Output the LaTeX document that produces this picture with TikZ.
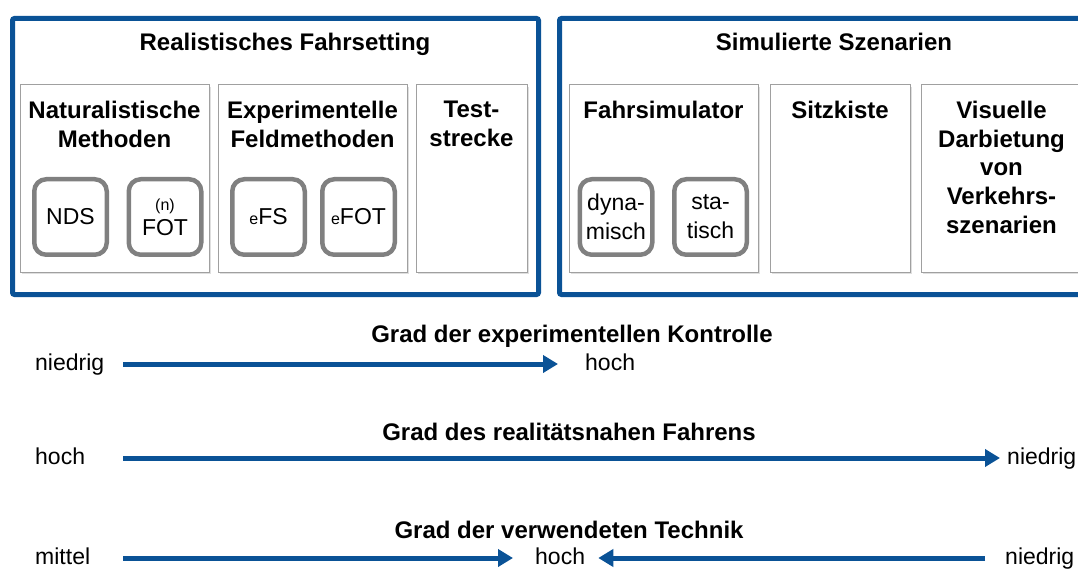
\documentclass[tikz,border=0pt]{standalone}
\usepackage{fontspec}
\setmainfont{Liberation Sans}
\usetikzlibrary{arrows.meta,positioning,shadows}
\definecolor{frameblue}{RGB}{10, 82,150}
\definecolor{chipgray} {RGB}{128,128,128}
\definecolor{panelgray}{RGB}{160,160,160}

\begin{document}
\begin{tikzpicture}[
  x=1pt, y=-1pt,
  every node/.style={font=\fontsize{23}{28.7}\selectfont, align=center},
  frame/.style={draw=frameblue, line width=5pt, rounded corners=2pt},
  panel/.style={draw=panelgray, fill=white, line width=1pt, inner sep=0pt,
    drop shadow={shadow xshift=2pt, shadow yshift=-2pt, opacity=0.25}},
  head/.style={font=\bfseries\fontsize{24}{28.7}\selectfont},
  chip/.style={draw=chipgray, fill=white, line width=4.5pt, rounded corners=12pt, inner sep=0pt, minimum width=72.5pt, minimum height=75.5pt},
  lbl/.style={inner sep=0pt, text height=17pt, text depth=5pt},
  arrow/.style={-{Triangle[length=15pt,width=17pt]}, line width=5pt, frameblue}
]
  \useasboundingbox (0,0) rectangle (1078,569);
  \clip (0,0) rectangle (1078,569);

  % Frames
  \draw [frame] (12.5,18.5) rectangle (538.5,294.5);
  \draw [frame] (559.5,18.5) rectangle (1090,294.5);
  \node (realT) [head, anchor=base] at (285,51) {Realistisches Fahrsetting};
  \node (simT)  [head, anchor=base] at (834,51) {Simulierte Szenarien};

  % Panels
  \node (nat)  [panel, minimum width=189pt, minimum height=187pt] at (114.5,178.5) {};
  \node (exp)  [panel, minimum width=189pt, minimum height=187pt] at (312.5,178.5) {};
  \node (test) [panel, minimum width=111pt, minimum height=187pt] at (471.5,178.5) {};
  \node (fsim) [panel, minimum width=189pt, minimum height=187pt] at (663.5,178.5) {};
  \node (sitz) [panel, minimum width=140pt, minimum height=187pt] at (840,178.5) {};
  \node (vis)  [panel, minimum width=161pt, minimum height=187pt] at (1001.5,178.5) {};

  \node (natT)  [head, below=13pt of nat.north]  {Naturalistische\\Methoden};
  \node (expT)  [head, below=13pt of exp.north]  {Experimentelle\\Feldmethoden};
  \node (testT) [head, below=13pt of test.north] {Test-\\strecke};
  \node (fsimT) [head, below=13pt of fsim.north] {Fahrsimulator};
  \node (sitzT) [head, below=13pt of sitz.north] {Sitzkiste};
  \node (visT)  [head, below=13pt of vis.north]  {Visuelle\\Darbietung\\von\\Verkehrs-\\szenarien};

  % Chips
  \node (nds)  [chip] at (70.5,217) {NDS};
  \node (fot)  [chip, right=17.5pt of nds] {{\fontsize{16}{18}\selectfont(n)}\\[-4pt]FOT};
  \node (efs)  [chip] at (268.5,217) {{\fontsize{16}{18}\selectfont e}FS};
  \node (efot) [chip, right=13pt of efs] {{\fontsize{16}{18}\selectfont e}FOT};
  \node (dyn)  [chip] at (616,217) {dyna-\\misch};
  \node (stat) [chip, right=17.5pt of dyn] {sta-\\tisch};

  % Scales
  \node (kontT) [head, anchor=base] at (572,342) {Grad der experimentellen Kontrolle};
  \node (kontLo) [lbl, anchor=west] at (35,364) {niedrig};
  \node (kontHi) [lbl, anchor=west] at (585,364) {hoch};

  \node (realN)  [head, anchor=base] at (569,440) {Grad des realitätsnahen Fahrens};
  \node (realHi) [lbl, anchor=west] at (35,458) {hoch};
  \node (realLo) [lbl, anchor=west] at (1007,458) {niedrig};

  \node (techT)  [head, anchor=base] at (569,538) {Grad der verwendeten Technik};
  \node (techMi) [lbl, anchor=west] at (35,558) {mittel};
  \node (techHi) [lbl, anchor=west] at (535,558) {hoch};
  \node (techLo) [lbl, anchor=west] at (1005,558) {niedrig};

  % Paths
  \draw [arrow, shorten <=19pt, shorten >=27pt] (kontLo) -- (kontHi);
  \draw [arrow, shorten <=38pt, shorten >=7pt] (realHi) -- (realLo);
  \draw [arrow, shorten <=33pt, shorten >=22pt] (techMi) -- (techHi);
  \draw [arrow, shorten <=20pt, shorten >=13pt] (techLo) -- (techHi);
\end{tikzpicture}
\end{document}
